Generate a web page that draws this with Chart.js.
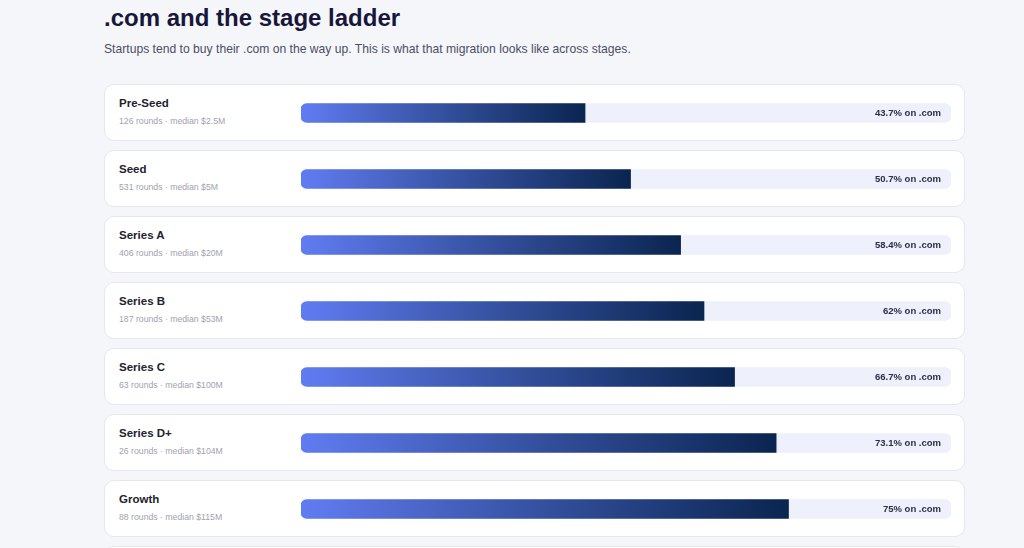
<!DOCTYPE html>
<html>
<head>
<meta charset="utf-8">
<script src="https://cdn.jsdelivr.net/npm/chart.js@4.4.1/dist/chart.umd.min.js"></script>
<style>
  html, body { margin: 0; padding: 0; }
  body {
    width: 1024px; height: 548px; overflow: hidden;
    background: #f5f6fa;
    font-family: "Liberation Sans", Arial, Helvetica, sans-serif;
    position: relative;
  }
  h1 {
    position: absolute; left: 104px; top: 4px; margin: 0;
    font-size: 24px; font-weight: bold; color: #17173b;
  }
  .sub {
    position: absolute; left: 104px; top: 42px; margin: 0;
    font-size: 12.15px; color: #4b4e63;
  }
  .card {
    position: absolute; left: 104px; width: 859px; height: 55px;
    background: #fff; border: 1px solid #e6e8ef; border-radius: 10px;
  }
  .card .name {
    position: absolute; left: 14px; top: 12px;
    font-size: 11.5px; font-weight: bold; color: #23232f;
  }
  .card .meta {
    position: absolute; left: 14px; top: 31px;
    font-size: 8.7px; color: #a0a2b0;
  }
  #wrap { position: absolute; left: 301px; top: 80px; width: 650px; height: 462px; }
</style>
</head>
<body>
<h1>.com and the stage ladder</h1>
<p class="sub">Startups tend to buy their .com on the way up. This is what that migration looks like across stages.</p>
<div id="cards"></div>
<div id="wrap"><canvas id="ladderChart"></canvas></div>
<script>
// stages, top to bottom
const stages = ["Pre-Seed", "Seed", "Series A", "Series B", "Series C", "Series D+", "Growth"];
const rounds = [126, 531, 406, 187, 63, 26, 88];
const medians = ["$2.5M", "$5M", "$20M", "$53M", "$100M", "$104M", "$115M"];
// share of startups on a .com domain (%)
const comShare = [43.7, 50.7, 58.4, 62, 66.7, 73.1, 75];
const fullTrack = [100, 100, 100, 100, 100, 100, 100];

// card backgrounds + text
const cardsEl = document.getElementById("cards");
for (let i = 0; i <= stages.length; i++) {
  const c = document.createElement("div");
  c.className = "card";
  c.style.top = (84 + i * 66) + "px";
  if (i < stages.length) {
    c.innerHTML = '<div class="name">' + stages[i] + '</div>' +
      '<div class="meta">' + rounds[i] + ' rounds \u00b7 median ' + medians[i] + '</div>';
  }
  cardsEl.appendChild(c);
}

// percent label at the right end of each track
const shareLabels = {
  id: "shareLabels",
  afterDatasetsDraw(chart) {
    const ctx = chart.ctx;
    const meta = chart.getDatasetMeta(1);
    const right = chart.scales.x.getPixelForValue(100);
    ctx.save();
    ctx.font = "bold 9.5px 'Liberation Sans', Arial, sans-serif";
    ctx.fillStyle = "#2b2d4a";
    ctx.textAlign = "right";
    ctx.textBaseline = "middle";
    meta.data.forEach((bar, i) => {
      ctx.fillText(comShare[i] + "% on .com", right - 10, bar.y);
    });
    ctx.restore();
  }
};

const ctxLadder = document.getElementById("ladderChart");
new Chart(ctxLadder, {
  type: "bar",
  data: {
    labels: stages,
    datasets: [{
      label: "on .com",
      data: comShare,
      order: 0,
      barThickness: 19,
      borderSkipped: false,
      borderRadius: { topLeft: 6, bottomLeft: 6, topRight: 0, bottomRight: 0 },
      backgroundColor: (c) => {
        const chart = c.chart;
        if (!chart.chartArea || c.type !== "data") return "#3a56c0";
        const x = chart.scales.x;
        const x0 = x.getPixelForValue(0);
        const x1 = x.getPixelForValue(c.raw);
        const g = chart.ctx.createLinearGradient(x0, 0, x1, 0);
        g.addColorStop(0, "#617cf2");
        g.addColorStop(0.5, "#34509e");
        g.addColorStop(1, "#0a2550");
        return g;
      }
    }, {
      label: "track",
      data: fullTrack,
      order: 1,
      barThickness: 19,
      borderSkipped: false,
      borderRadius: 6,
      backgroundColor: "#eef0fb"
    }]
  },
  plugins: [shareLabels],
  options: {
    indexAxis: "y",
    responsive: true,
    maintainAspectRatio: false,
    animation: false,
    grouped: false,
    layout: { padding: 0 },
    plugins: { legend: { display: false }, tooltip: { enabled: false } },
    scales: {
      x: { display: false, min: 0, max: 100 },
      y: { display: false }
    }
  }
});
</script>
</body>
</html>
